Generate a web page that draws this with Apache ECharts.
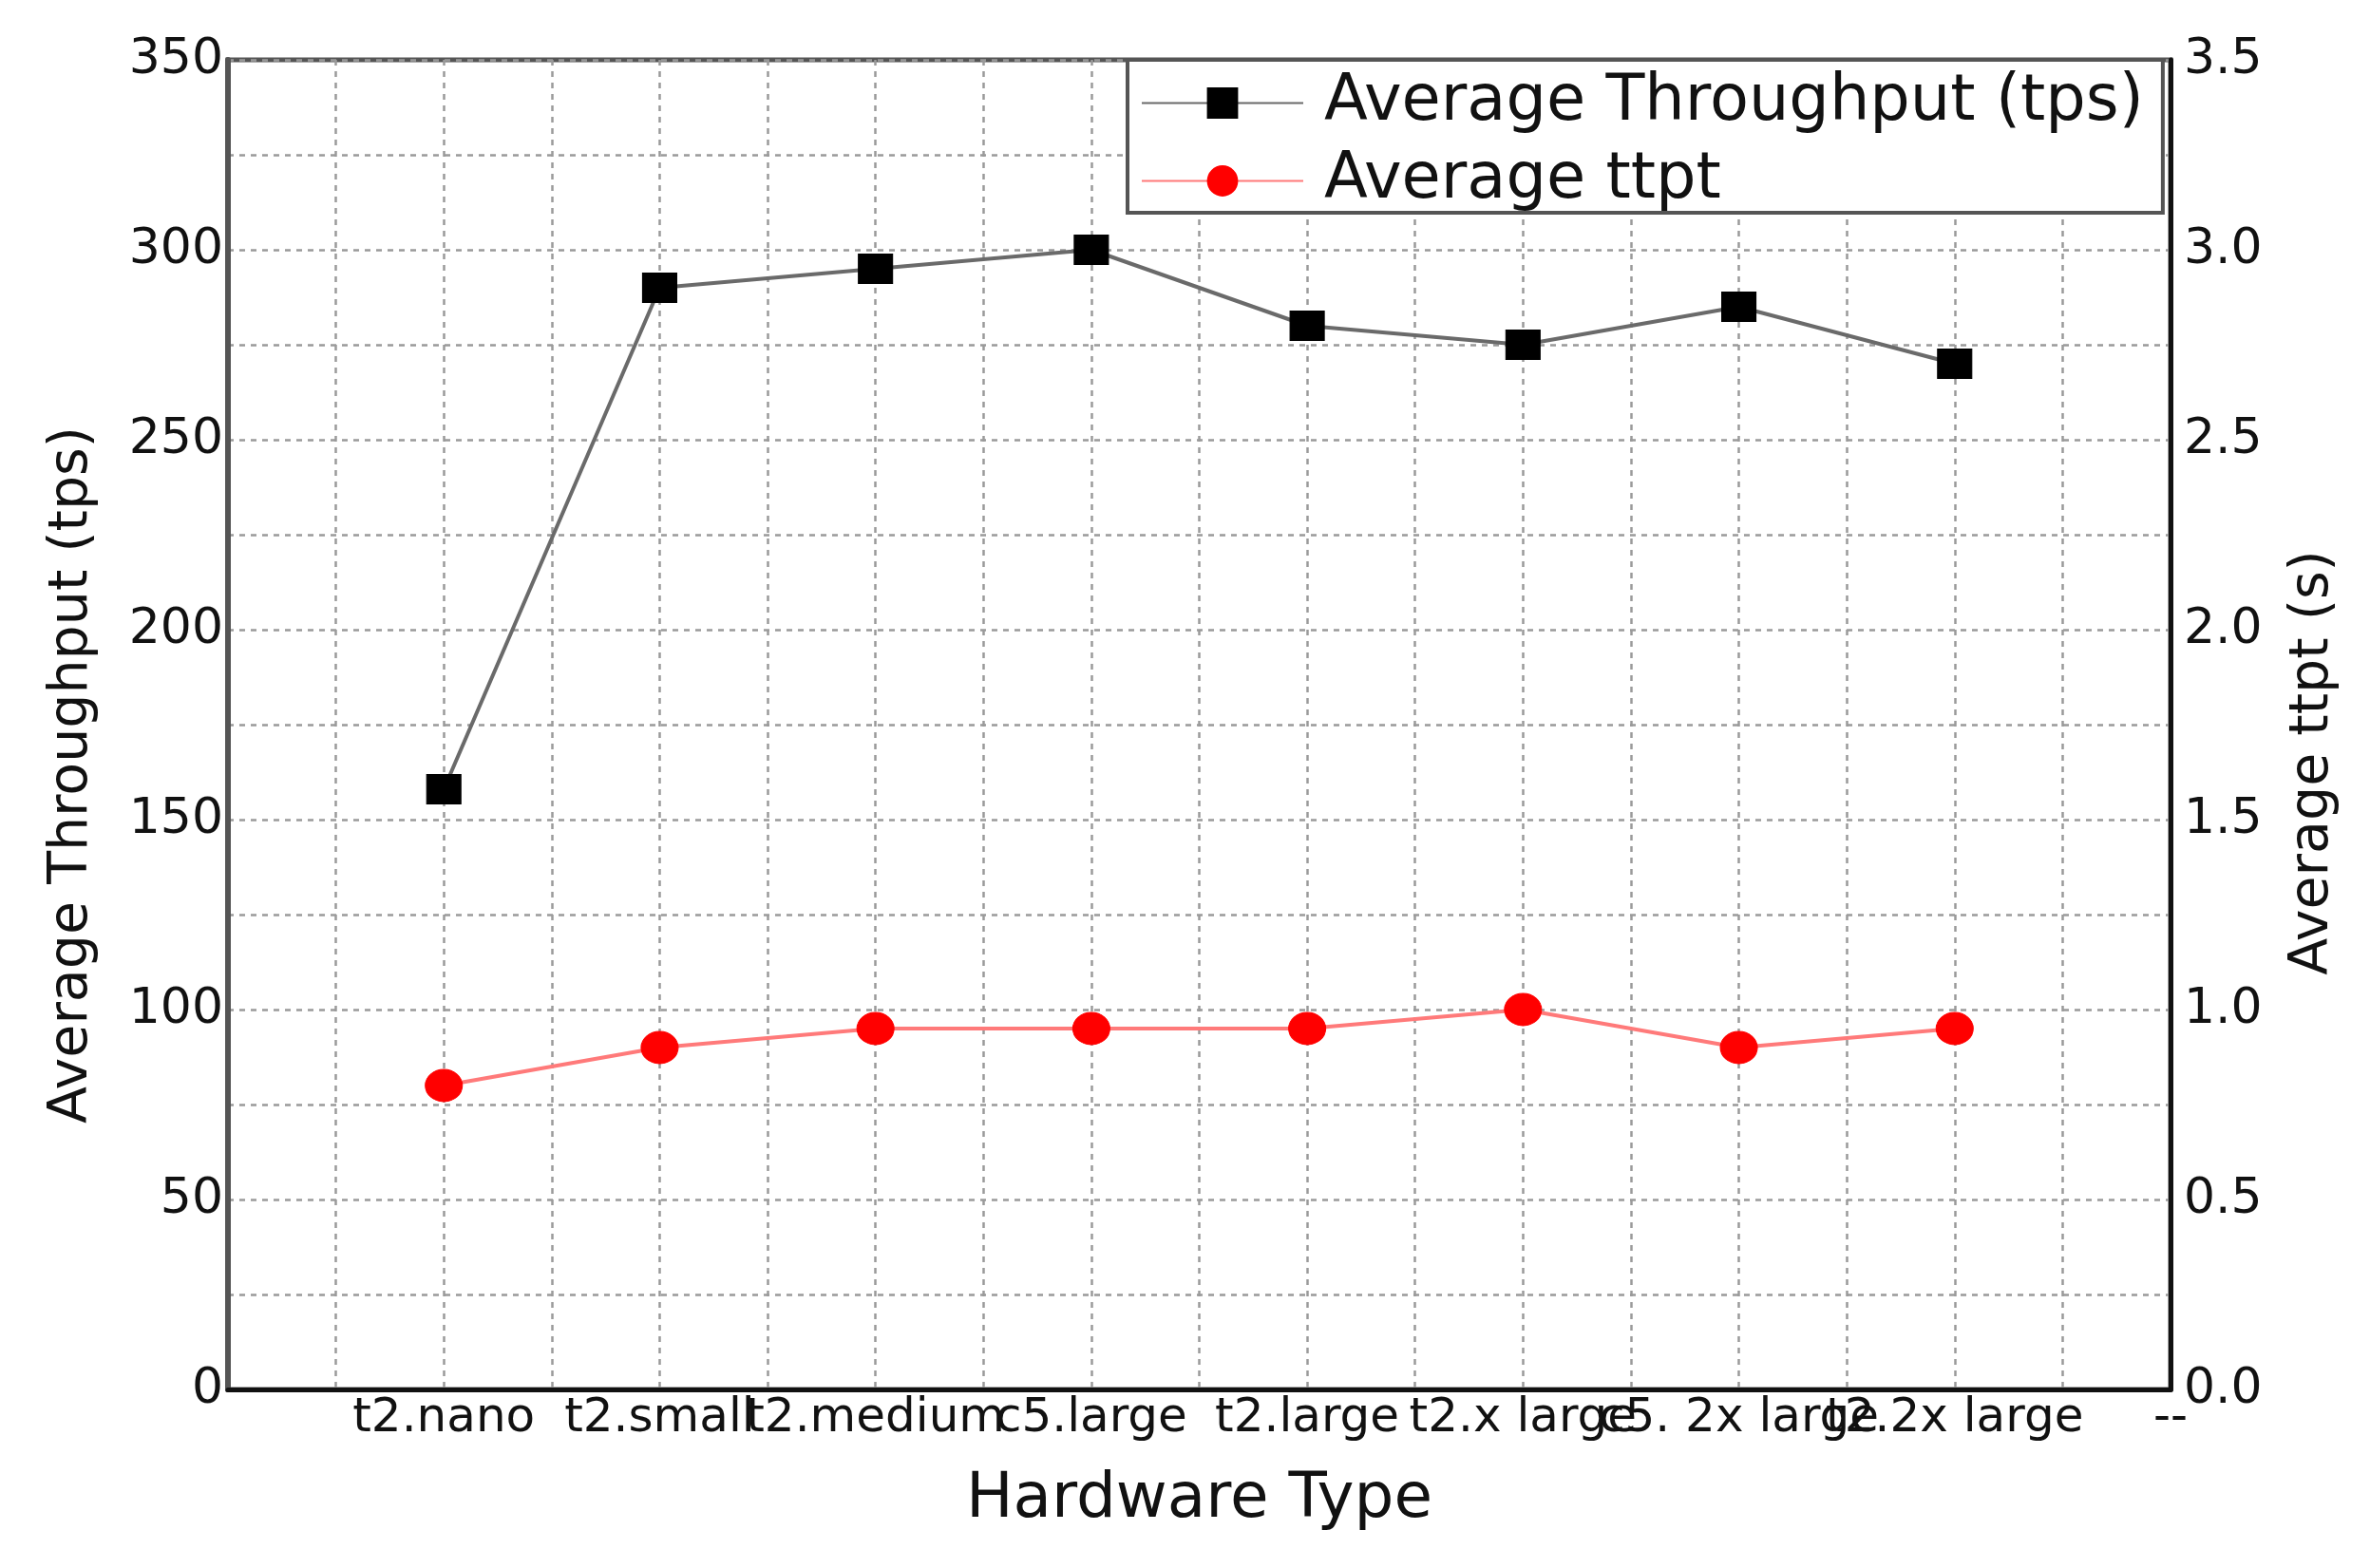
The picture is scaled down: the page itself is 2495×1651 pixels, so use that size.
<!DOCTYPE html>
<html>
<head>
<meta charset="utf-8">
<style>
  html, body { margin: 0; padding: 0; background: #fff; }
  #chart { width: 2495px; height: 1651px; }
</style>
<script src="https://cdn.jsdelivr.net/npm/echarts@6/dist/echarts.min.js"></script>
</head>
<body>
<div id="chart"></div>
<script>
// ---- data ----
const categories = ['t2.nano', 't2.small', 't2.medium', 'c5.large', 't2.large', 't2.x large', 'c5. 2x large', 't2.2x large'];
const endLabel = '--';
const throughput = [158, 290, 295, 300, 280, 275, 285, 270];
const ttpt = [0.80, 0.90, 0.95, 0.95, 0.95, 1.00, 0.90, 0.95];
const leftTicks = [0, 350, 50];    // min, max, interval
const rightTicks = [0, 3.5, 0.5];  // min, max, interval

const xLabels = [''].concat(categories, [endLabel]);
const FONT = 'DejaVu Sans';
const TXT = '#111';
const gridLine = { color: '#9a9a9a', width: 2.5, type: [6, 6] };

const chart = echarts.init(document.getElementById('chart'));
chart.setOption({
  animation: false,
  backgroundColor: '#fff',
  grid: {
    left: 240, right: 210, top: 63, bottom: 188,
    show: true, borderColor: '#555', borderWidth: 5,
    outerBoundsMode: 'none'
  },
  legend: {
    orient: 'vertical',
    left: 1187, top: 63,
    padding: [12, 20, 0, 14],
    itemGap: 15,
    itemWidth: 170,
    itemHeight: 41,
    backgroundColor: '#fff',
    borderColor: '#555',
    borderWidth: 4,
    borderRadius: 0,
    textStyle: { fontFamily: FONT, fontSize: 67, color: TXT, lineHeight: 66, padding: [0, 0, 0, 17] },
    data: ['Average Throughput (tps)', 'Average ttpt']
  },
  xAxis: {
    type: 'value',
    min: 0, max: xLabels.length - 1, interval: 1,
    name: 'Hardware Type',
    nameLocation: 'middle',
    nameGap: 84,
    nameTextStyle: { fontFamily: FONT, fontSize: 66, color: TXT },
    axisLine: { show: true, lineStyle: { color: '#111', width: 5 } },
    axisTick: { show: false },
    minorTick: { show: false, splitNumber: 2 },
    axisLabel: {
      fontFamily: FONT, fontSize: 50, color: TXT, margin: 6,
      formatter: v => { const s = xLabels[Math.round(v)]; return s == null ? '' : s; }
    },
    splitLine: { show: true, lineStyle: gridLine },
    minorSplitLine: { show: true, lineStyle: gridLine }
  },
  yAxis: [
    {
      type: 'value',
      position: 'left',
      min: leftTicks[0], max: leftTicks[1], interval: leftTicks[2],
      name: 'Average Throughput (tps)',
      nameLocation: 'middle',
      nameRotate: 90,
      nameGap: 135,
      nameTextStyle: { fontFamily: FONT, fontSize: 57, color: TXT, padding: [0, 106, 0, 0] },
      axisLine: { show: true, lineStyle: { color: '#555', width: 6 } },
      axisTick: { show: false },
      minorTick: { show: false, splitNumber: 2 },
      axisLabel: { fontFamily: FONT, fontSize: 52, color: TXT, margin: 5 },
      splitLine: { show: true, lineStyle: gridLine },
      minorSplitLine: { show: true, lineStyle: gridLine }
    },
    {
      type: 'value',
      position: 'right',
      min: rightTicks[0], max: rightTicks[1], interval: rightTicks[2],
      name: 'Average ttpt (s)',
      nameLocation: 'middle',
      nameRotate: 90,
      nameGap: 122,
      nameTextStyle: { fontFamily: FONT, fontSize: 57, color: TXT, padding: [0, 80, 0, 0] },
      axisLine: { show: true, lineStyle: { color: '#111', width: 5 } },
      axisTick: { show: false },
      axisLabel: { fontFamily: FONT, fontSize: 52, color: TXT, margin: 14, formatter: v => v.toFixed(1) },
      splitLine: { show: false }
    }
  ],
  series: [
    {
      name: 'Average Throughput (tps)',
      type: 'line',
      yAxisIndex: 0,
      data: categories.map((c, i) => [i + 1, throughput[i]]),
      symbol: 'rect',
      symbolSize: [36, 31],
      lineStyle: { color: '#6a6a6a', width: 4 },
      itemStyle: { color: '#000', borderColor: '#000' },
      z: 3
    },
    {
      name: 'Average ttpt',
      type: 'line',
      yAxisIndex: 1,
      data: categories.map((c, i) => [i + 1, ttpt[i]]),
      symbol: 'circle',
      symbolSize: [39, 34],
      lineStyle: { color: '#ff7a7a', width: 4 },
      itemStyle: { color: '#ff0000', borderColor: '#ff0000' },
      z: 3
    }
  ]
});
</script>
</body>
</html>
